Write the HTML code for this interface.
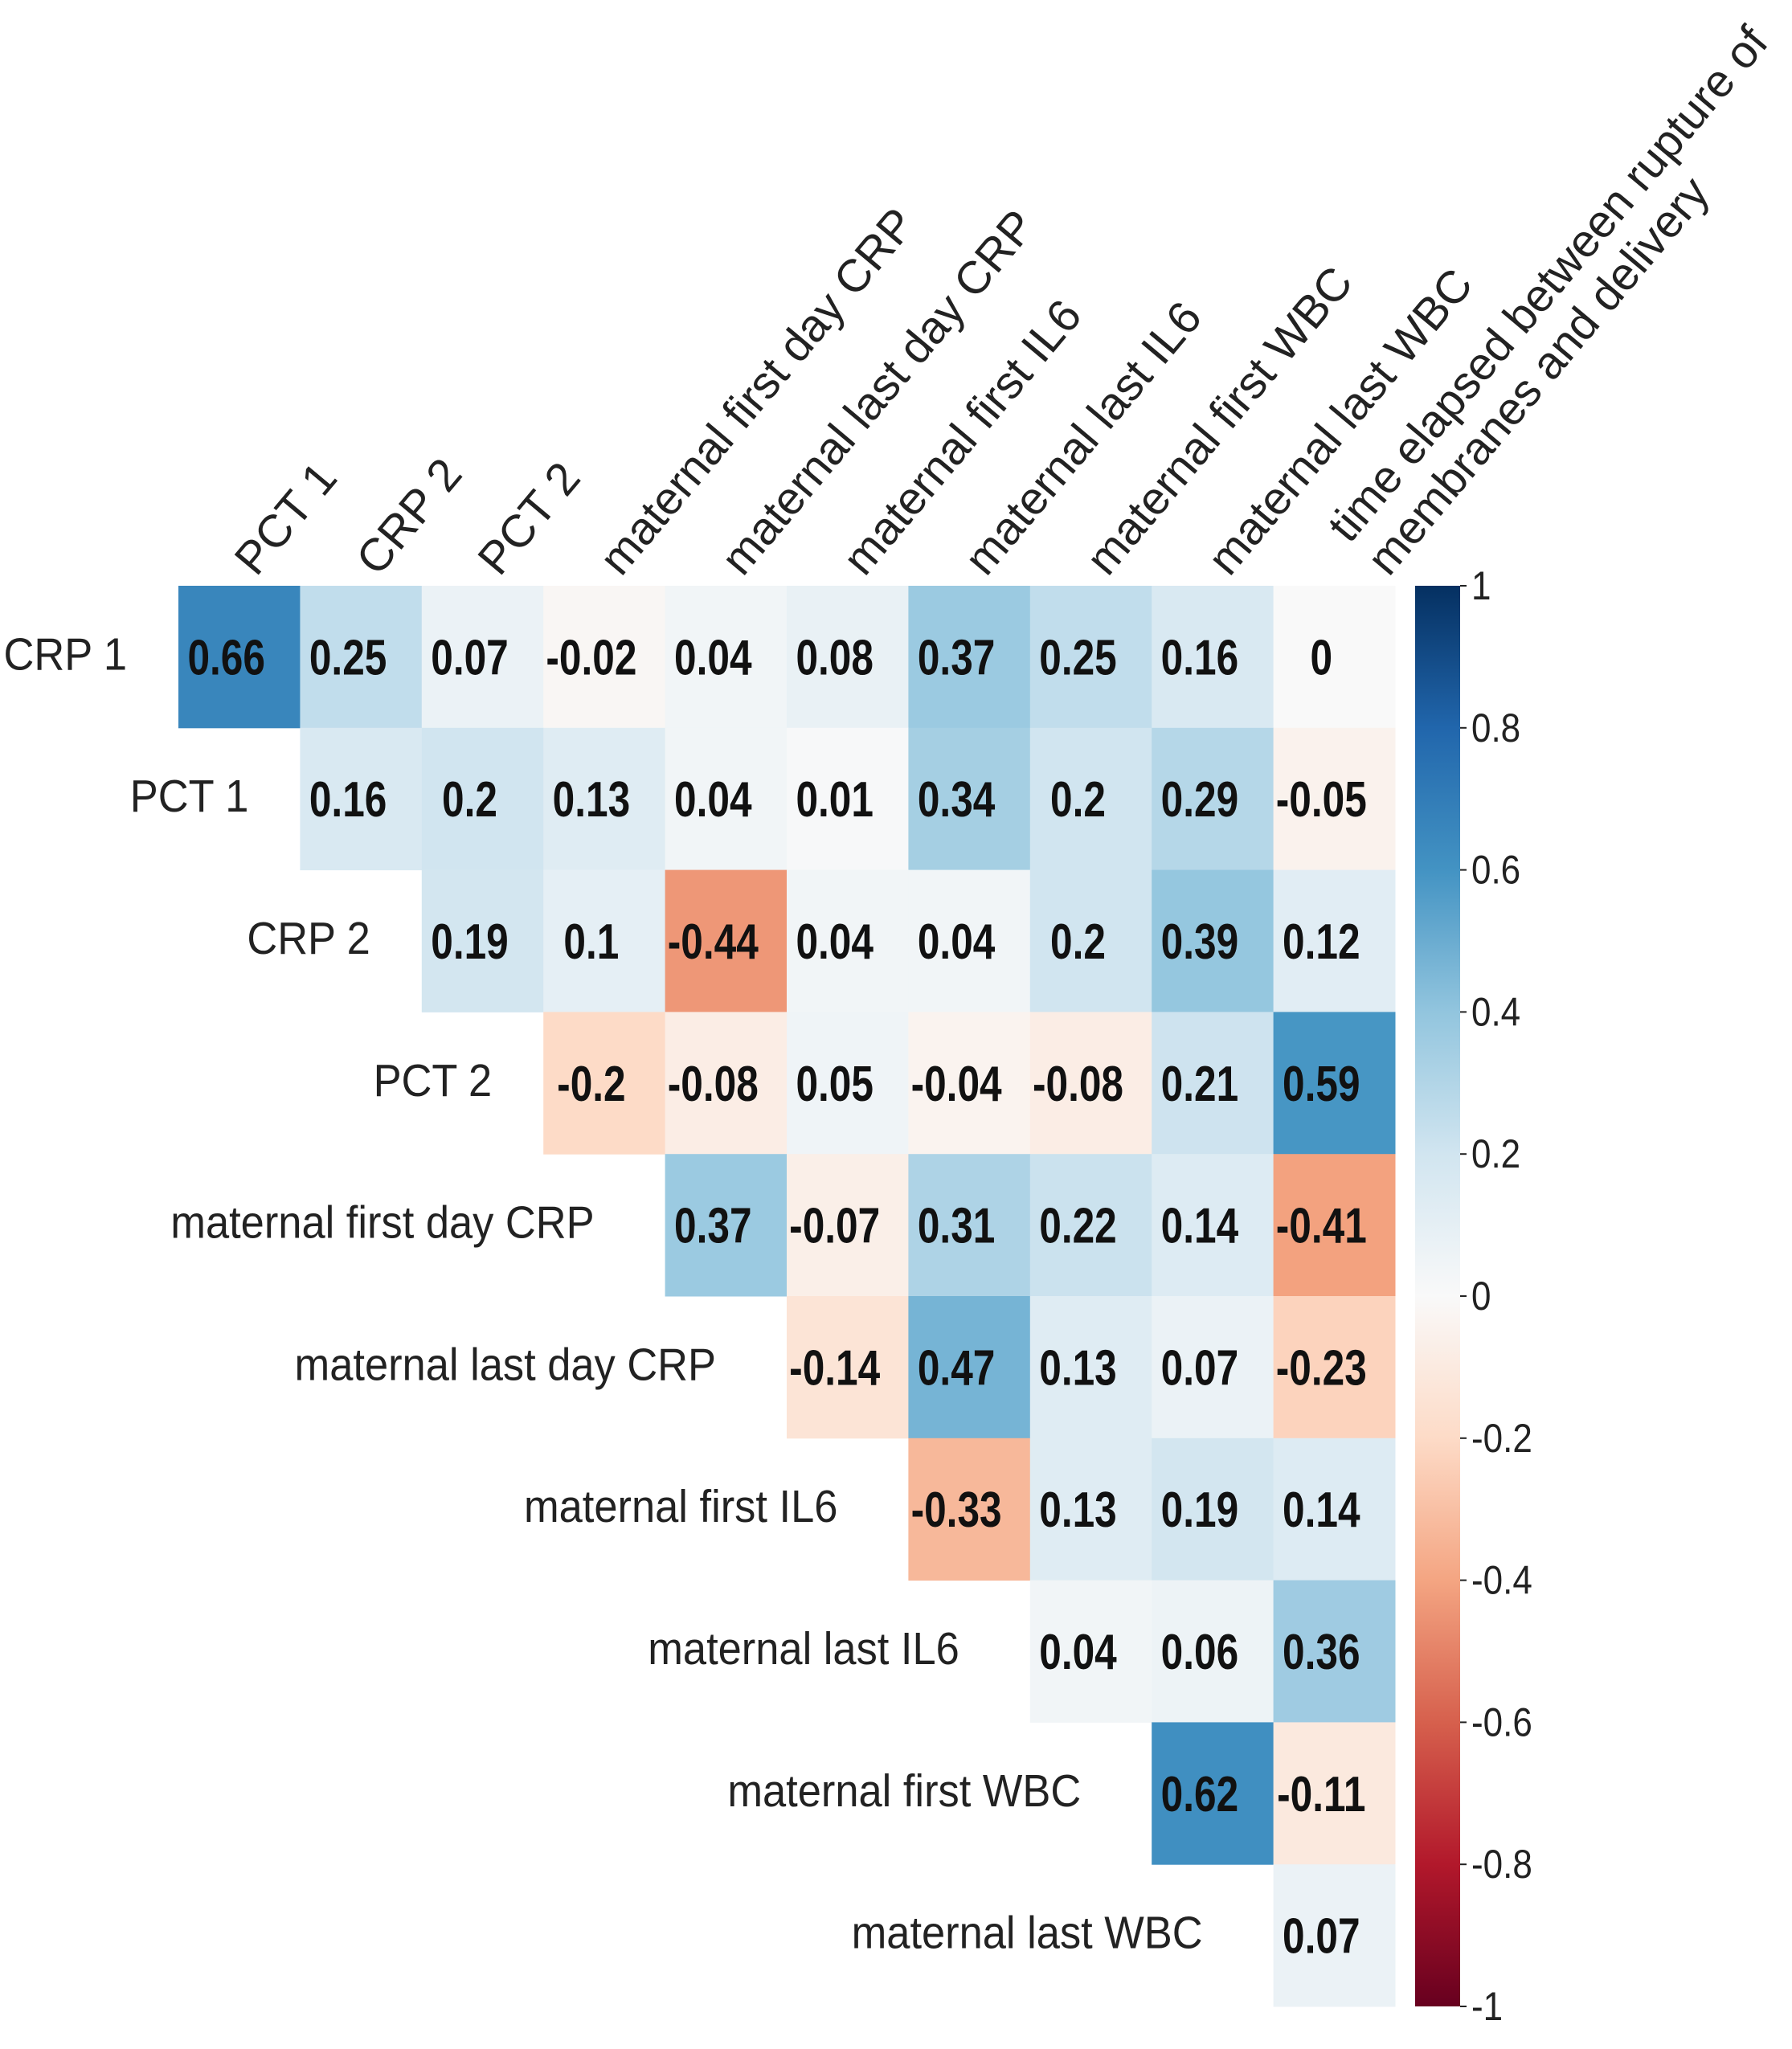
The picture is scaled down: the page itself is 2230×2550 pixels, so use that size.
<!DOCTYPE html>
<html><head><meta charset="utf-8"><style>
html,body{margin:0;padding:0;background:#fff;}
svg{display:block;font-family:"Liberation Sans",Arial,sans-serif;}
</style></head><body>
<svg id="chart" width="2230" height="2550" viewBox="0 0 2230 2550" xmlns="http://www.w3.org/2000/svg">
<defs>
<linearGradient id="cbar" x1="0" y1="1" x2="0" y2="0">
<stop offset="0" stop-color="#67001f"/><stop offset="0.1" stop-color="#b2182b"/><stop offset="0.2" stop-color="#d6604d"/><stop offset="0.3" stop-color="#f4a582"/><stop offset="0.4" stop-color="#fddbc7"/><stop offset="0.5" stop-color="#f9f9f9"/><stop offset="0.6" stop-color="#d1e5f0"/><stop offset="0.7" stop-color="#92c5de"/><stop offset="0.8" stop-color="#4393c3"/><stop offset="0.9" stop-color="#2166ac"/><stop offset="1" stop-color="#053061"/>
</linearGradient>
</defs>
<g id="cells"></g>
<g id="rowlabels"></g>
<g id="collabels"></g>
<g id="colorbar"></g>
</svg>
<script>
const rowLabels = ["CRP 1","PCT 1","CRP 2","PCT 2","maternal first day CRP","maternal last day CRP","maternal first IL6","maternal last IL6","maternal first WBC","maternal last WBC"];
const colLabels = ["PCT 1","CRP 2","PCT 2","maternal first day CRP","maternal last day CRP","maternal first IL6","maternal last IL6","maternal first WBC","maternal last WBC","time elapsed between rupture of|membranes and delivery"];
const row0 = [0.66,0.25,0.07,-0.02,0.04,0.08,0.37,0.25,0.16,0];
const row1 = [0.16,0.2,0.13,0.04,0.01,0.34,0.2,0.29,-0.05];
const row2 = [0.19,0.1,-0.44,0.04,0.04,0.2,0.39,0.12];
const row3 = [-0.2,-0.08,0.05,-0.04,-0.08,0.21,0.59];
const row4 = [0.37,-0.07,0.31,0.22,0.14,-0.41];
const row5 = [-0.14,0.47,0.13,0.07,-0.23];
const row6 = [-0.33,0.13,0.19,0.14];
const row7 = [0.04,0.06,0.36];
const row8 = [0.62,-0.11];
const row9 = [0.07];
const values = [row0,row1,row2,row3,row4,row5,row6,row7,row8,row9];
const cbTicks = [1,0.8,0.6,0.4,0.2,0,-0.2,-0.4,-0.6,-0.8,-1];

const NS = "http://www.w3.org/2000/svg";
const X0 = 222, Y0 = 729, CW = 151.4, CH = 176.8;
const colX = c => X0 + c * CW;
const rowY = r => Y0 + r * CH;
const CB = {x: 1761, w: 56, top: 729, bot: 2497};
const cbY = v => CB.bot - (v + 1) / 2 * (CB.bot - CB.top);

const stops = [[-1,[103,0,31]],[-0.8,[178,24,43]],[-0.6,[214,96,77]],[-0.4,[244,165,130]],[-0.2,[253,219,199]],[0,[249,249,249]],[0.2,[209,229,240]],[0.4,[146,197,222]],[0.6,[67,147,195]],[0.8,[33,102,172]],[1,[5,48,97]]];
function color(v){
  for(let i=0;i<stops.length-1;i++){
    const [a,ca]=stops[i],[b,cb]=stops[i+1];
    if(v>=a&&v<=b){const t=(v-a)/(b-a);return "rgb("+ca.map((x,k)=>Math.round(x+(cb[k]-x)*t)).join(",")+")";}
  }
  return "#fff";
}
function mk(tag, attrs, parent){const e=document.createElementNS(NS,tag);for(const k in attrs)e.setAttribute(k,attrs[k]);parent.appendChild(e);return e;}

const cells = document.getElementById("cells");
values.forEach((row,r)=>{
  row.forEach((v,j)=>{
    const c = r + j;
    const rect = mk("rect",{x:colX(c),y:rowY(r),width:CW+0.5,height:CH+0.5,fill:color(v)},cells);
    
    
    const g = mk("g",{transform:"translate("+(colX(c)+CW/2-16)+","+(rowY(r)+CH/2+22)+") scale(0.8,1)"},cells);
    const t = mk("text",{x:0,y:0,"text-anchor":"middle","font-size":62,"font-weight":"bold",fill:"#111"},g);
    t.textContent = String(v);
    
    
  });
});

const rl = document.getElementById("rowlabels");
rowLabels.forEach((lab,r)=>{
  const gap = lab.length > 6 ? 88 : 64;
  const g = mk("g",{transform:"translate("+(colX(r)-gap)+","+(rowY(r)+CH/2+16)+") scale(0.92,1)"},rl);
  const t = mk("text",{x:0,y:0,"text-anchor":"end","font-size":57,fill:"#222"},g);
  t.textContent = lab;
  
  
});

const cl = document.getElementById("collabels");
colLabels.forEach((lab,c)=>{
  const lines = lab.split("|");
  const extra = lines.length > 1 ? 47 : 0;
  const g = mk("g",{transform:"translate("+(colX(c)+CW/2+21+extra)+","+(Y0-10)+") rotate(-50)"},cl);
  lines.forEach((ln,i)=>{
    const t = mk("text",{x:0,y:(i-(lines.length-1))*64,"text-anchor":"start","font-size":57,fill:"#222"},g);
    t.textContent = ln;
    
    
  });
});

const cbg = document.getElementById("colorbar");
const bar = mk("rect",{x:CB.x,y:CB.top,width:CB.w,height:CB.bot-CB.top,fill:"url(#cbar)"},cbg);


cbTicks.forEach(v=>{
  const y = cbY(v);
  const tk = mk("line",{x1:CB.x+CB.w,x2:CB.x+CB.w+8,y1:y,y2:y,stroke:"#222","stroke-width":2},cbg);
  
  
  const g = mk("g",{transform:"translate("+(CB.x+CB.w+14)+","+(y+17)+") scale(0.88,1)"},cbg);
  const t = mk("text",{x:0,y:0,"font-size":50,fill:"#222"},g);
  t.textContent = String(v);
  
  
});
</script>
</body></html>
